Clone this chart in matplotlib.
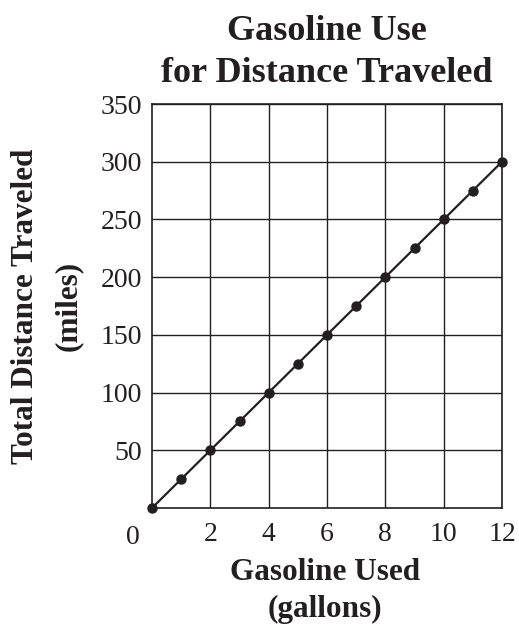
import matplotlib
matplotlib.use("Agg")
import matplotlib.pyplot as plt

gallons = [0, 1, 2, 3, 4, 5, 6, 7, 8, 9, 10, 11, 12]
miles = [0, 25, 50, 75, 100, 125, 150, 175, 200, 225, 250, 275, 300]
x_ticks = [2, 4, 6, 8, 10, 12]
y_ticks = [50, 100, 150, 200, 250, 300, 350]

plt.rcParams['font.family'] = ['Liberation Serif', 'DejaVu Serif']
ink = '#231f20'

W, H = 519, 626
fig = plt.figure(figsize=(W/100, H/100), dpi=100)
ax = fig.add_axes([152/W, 1-508/H, 350/W, 404/H])

ax.plot(gallons, miles, color=ink, lw=1.6, marker='o', ms=6.5, clip_on=False, zorder=3)
ax.set_xlim(0, 12)
ax.set_ylim(0, 350)
ax.set_xticks(x_ticks)
ax.set_yticks(y_ticks)
ax.grid(True, color=ink, lw=1.0)
ax.tick_params(length=0, labelsize=20, pad=7, labelcolor=ink)
ax.tick_params(axis='x', pad=10)
for s in ax.spines.values():
    s.set_linewidth(1.2)
    s.set_color(ink)

fig.text(133/W, 1-537/H, '0', ha='center', va='center', fontsize=20, color=ink)

fig.text(327/W, 1-31/H, 'Gasoline Use', ha='center', va='center', fontsize=26, fontweight='bold', color=ink)
fig.text(327/W, 1-73/H, 'for Distance Traveled', ha='center', va='center', fontsize=26, fontweight='bold', color=ink)

fig.text(325/W, 1-572/H, 'Gasoline Used', ha='center', va='center', fontsize=22.5, fontweight='bold', color=ink)
fig.text(325/W, 1-609/H, '(gallons)', ha='center', va='center', fontsize=22.5, fontweight='bold', color=ink)

fig.text(26/W, 1-306/H, 'Total Distance Traveled', ha='center', va='center', fontsize=22.5, fontweight='bold', rotation=90, color=ink)
fig.text(68/W, 1-306/H, '(miles)', ha='center', va='center', fontsize=22.5, fontweight='bold', rotation=90, color=ink)

fig.savefig('out.png', dpi=100)
